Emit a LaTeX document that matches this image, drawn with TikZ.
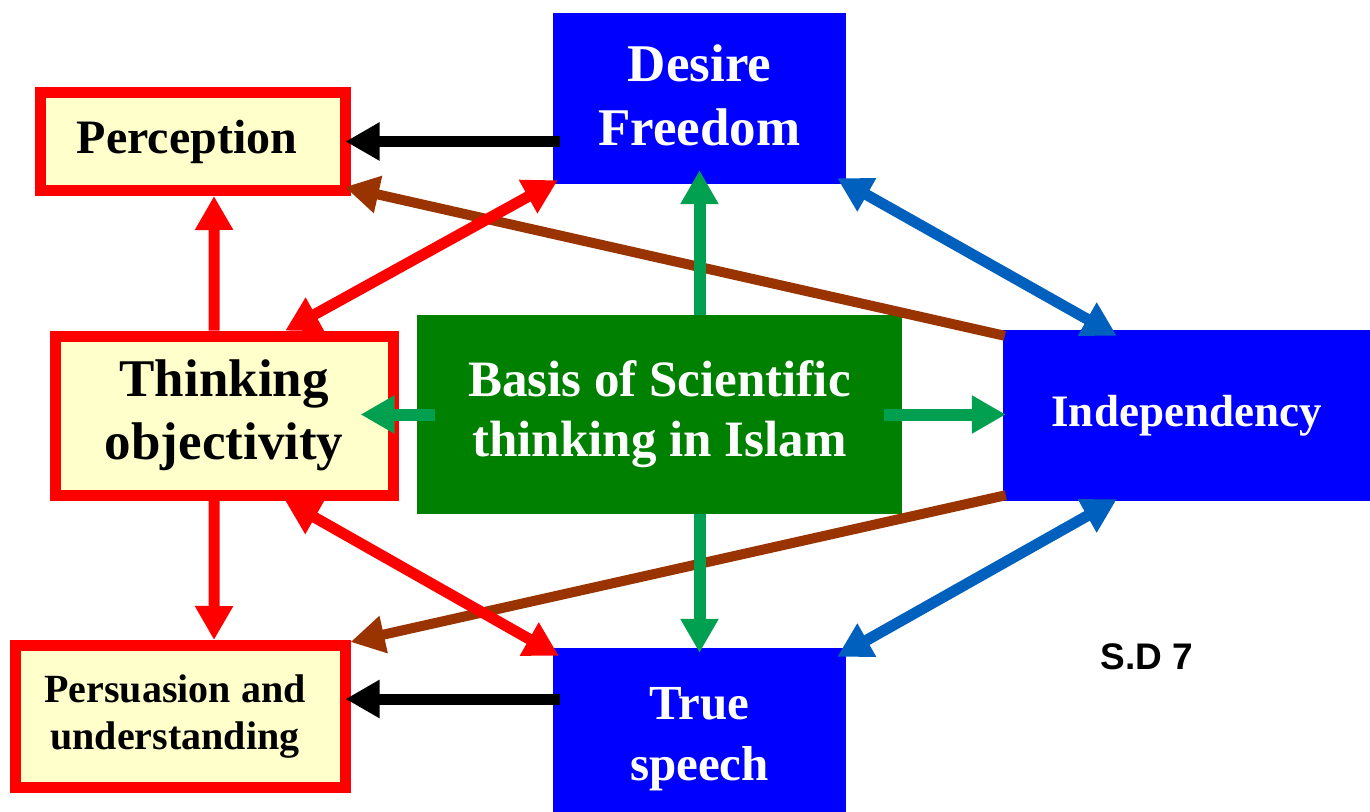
\documentclass[tikz,border=0pt]{standalone}
\usepackage{fontspec}
\setmainfont{Liberation Serif}
\newfontfamily\sdfont{Liberation Sans}
\usetikzlibrary{arrows.meta,calc}
\definecolor{boxred}{HTML}{FF0000}
\definecolor{boxyellow}{HTML}{FFFFCC}
\definecolor{boxblue}{HTML}{0000FF}
\definecolor{boxgreen}{HTML}{008000}
\definecolor{arrgreen}{HTML}{00A050}
\definecolor{arrbrown}{HTML}{993300}
\definecolor{arrblue}{HTML}{0060BE}
\tikzset{
  yellowbox/.style={draw=boxred, line width=11pt, fill=boxyellow, inner sep=0pt, align=center, text=black},
  bluebox/.style={fill=boxblue, inner sep=0pt, align=center, text=white},
  greenbox/.style={fill=boxgreen, inner sep=0pt, align=center, text=white},
  bigtri/.tip={Triangle[length=34pt,width=36pt]},
  redarr/.style={draw=boxred, line width=11pt},
  greenarr/.style={draw=arrgreen, line width=12pt},
  brownarr/.style={draw=arrbrown, line width=10pt},
  bluearr/.style={draw=arrblue, line width=11pt},
  blackarr/.style={draw=black, line width=11pt},
}
\begin{document}
\begin{tikzpicture}[x=1pt,y=-1pt]
\useasboundingbox[fill=white] (0,0) rectangle (1370,811);
% boxes
\node[yellowbox, minimum width=305pt, minimum height=98pt,
  font=\fontsize{48}{56}\selectfont\bfseries] (perc) at (192.5,141.5) {Perception\hspace*{11pt}};
\node[yellowbox, minimum width=337.7pt, minimum height=159pt,
  font=\fontsize{53}{63}\selectfont\bfseries] (think) at (224.2,415.7) {Thinking\\objectivity};
\node[yellowbox, minimum width=330pt, minimum height=142pt,
  font=\fontsize{40}{47}\selectfont\bfseries] (pers) at (180,716.5) {Persuasion and\hspace*{10pt}\\understanding\hspace*{10pt}};
\node[bluebox, minimum width=293pt, minimum height=171pt,
  font=\fontsize{53}{64}\selectfont\bfseries] (desire) at (699.5,98.5) {Desire\\Freedom\rule[-6pt]{0pt}{6pt}};
\node[bluebox, minimum width=293pt, minimum height=182pt,
  font=\fontsize{49}{61}\selectfont\bfseries] (ts) at (699.5,739) {True\\speech};
\node[bluebox, minimum width=367pt, minimum height=171pt,
  font=\fontsize{45}{54}\selectfont\bfseries] (ind) at (1186.5,415.5) {Independency};
\node[greenbox, minimum width=485pt, minimum height=199pt,
  font=\fontsize{51}{60}\selectfont\bfseries] (basis) at (659.5,414.5) {Basis of Scientific\\thinking in Islam};
\node[font=\sdfont\fontsize{37}{44}\selectfont\bfseries] (sd) at (1147,657) {S.D 7};
% black arrows
\draw[blackarr, -{bigtri}] ($(desire.west |- perc.east)+(7,0)$) -- ($(perc.east)+(-5,0)$);
\draw[blackarr, -{bigtri}] ($(ts.west |- pers.east)+(7,-17.5)$) -- ($(pers.east)+(-5,-17.5)$);
% brown arrows
\draw[brownarr, -{bigtri}] ($(ind.north west)+(2,6)$) -- ($(perc.south east)+(-5.6,-9)$);
\draw[brownarr, -{bigtri}] ($(ind.south west)+(3,-6)$) -- ($(pers.north east)+(0,2)$);
% red arrows
\draw[redarr, -{bigtri}] ($(think.north)+(-10,0)$) -- ($(perc.south)+(21.5,0)$);
\draw[redarr, -{bigtri}] ($(think.south)+(-10,0)$) -- ($(pers.north)+(34,0)$);
\draw[redarr, {bigtri}-{bigtri}] ($(think.north)+(61,0)$) -- ($(desire.south west)+(5,-4)$);
\draw[redarr, {bigtri}-{bigtri}] ($(think.south)+(61,0)$) -- ($(ts.north west)+(6,8)$);
% blue arrows
\draw[bluearr, {bigtri}-{bigtri}] ($(desire.south east)+(-9,-6)$) -- ($(ind.north west)+(114,6)$);
\draw[bluearr, {bigtri}-{bigtri}] ($(ind.south west)+(114,-2)$) -- ($(ts.north east)+(-9,9)$);
% green arrows
\draw[greenarr, -{bigtri}] (desire.south |- basis.north) -- ($(desire.south)+(0,-14)$);
\draw[greenarr, -{bigtri}] (ts.north |- basis.south) -- ($(ts.north)+(0,5)$);
\draw[greenarr, -{bigtri}] ($(basis.west)+(18,0)$) -- ($(think.east |- basis.west)+(-38,0)$);
\draw[greenarr, -{bigtri}] ($(basis.east)+(-18,0)$) -- ($(ind.west |- basis.east)+(3,0)$);
\end{tikzpicture}
\end{document}
